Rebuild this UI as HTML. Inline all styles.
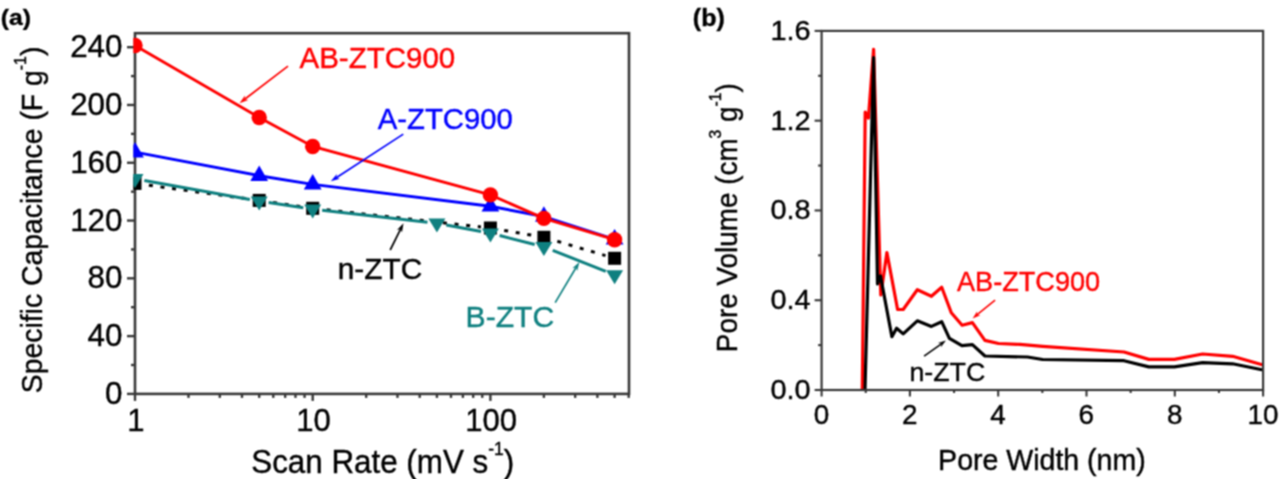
<!DOCTYPE html>
<html><head><meta charset="utf-8"><title>Figure</title>
<style>html,body{margin:0;padding:0;background:#fff;overflow:hidden;} svg{display:block;}</style>
</head><body>
<svg width="1280" height="479" viewBox="0 0 1280 479" font-family="'Liberation Sans', sans-serif"><defs><filter id="bl" x="0" y="0" width="1280" height="479" filterUnits="userSpaceOnUse" color-interpolation-filters="sRGB"><feConvolveMatrix order="3" kernelMatrix="1 2 1 2 4 2 1 2 1" divisor="16" edgeMode="none"/></filter></defs><rect width="1280" height="479" fill="#fff"/><g filter="url(#bl)"><rect width="1280" height="479" fill="#fff"/><defs><clipPath id="ca"><rect x="133.3" y="31.9" width="497" height="363.3"/></clipPath>
<clipPath id="cb"><rect x="820.5" y="29.8" width="443.7" height="361.3"/></clipPath></defs>
<rect x="135.0" y="33.2" width="494" height="360.7" fill="none" stroke="#383838" stroke-width="2.6"/>
<line x1="127" y1="393.9" x2="135.0" y2="393.9" stroke="#383838" stroke-width="2.4"/>
<text transform="translate(122.46,403.88) scale(1,1.0143)" font-size="31.37" fill="#000" font-weight="normal" text-anchor="end" stroke="#000" stroke-width="0.4">0</text>
<line x1="131" y1="365.01" x2="135.0" y2="365.01" stroke="#383838" stroke-width="2.4"/>
<line x1="127" y1="336.12" x2="135.0" y2="336.12" stroke="#383838" stroke-width="2.4"/>
<text transform="translate(122.46,346.09) scale(1,1.0143)" font-size="31.37" fill="#000" font-weight="normal" text-anchor="end" stroke="#000" stroke-width="0.4">40</text>
<line x1="131" y1="307.22" x2="135.0" y2="307.22" stroke="#383838" stroke-width="2.4"/>
<line x1="127" y1="278.33" x2="135.0" y2="278.33" stroke="#383838" stroke-width="2.4"/>
<text transform="translate(122.46,288.31) scale(1,1.0143)" font-size="31.37" fill="#000" font-weight="normal" text-anchor="end" stroke="#000" stroke-width="0.4">80</text>
<line x1="131" y1="249.44" x2="135.0" y2="249.44" stroke="#383838" stroke-width="2.4"/>
<line x1="127" y1="220.55" x2="135.0" y2="220.55" stroke="#383838" stroke-width="2.4"/>
<text transform="translate(122.46,230.53) scale(1,1.0143)" font-size="31.37" fill="#000" font-weight="normal" text-anchor="end" stroke="#000" stroke-width="0.4">120</text>
<line x1="131" y1="191.66" x2="135.0" y2="191.66" stroke="#383838" stroke-width="2.4"/>
<line x1="127" y1="162.76" x2="135.0" y2="162.76" stroke="#383838" stroke-width="2.4"/>
<text transform="translate(122.46,172.74) scale(1,1.0143)" font-size="31.37" fill="#000" font-weight="normal" text-anchor="end" stroke="#000" stroke-width="0.4">160</text>
<line x1="131" y1="133.87" x2="135.0" y2="133.87" stroke="#383838" stroke-width="2.4"/>
<line x1="127" y1="104.98" x2="135.0" y2="104.98" stroke="#383838" stroke-width="2.4"/>
<text transform="translate(122.46,114.96) scale(1,1.0143)" font-size="31.37" fill="#000" font-weight="normal" text-anchor="end" stroke="#000" stroke-width="0.4">200</text>
<line x1="131" y1="76.09" x2="135.0" y2="76.09" stroke="#383838" stroke-width="2.4"/>
<line x1="127" y1="47.2" x2="135.0" y2="47.2" stroke="#383838" stroke-width="2.4"/>
<text transform="translate(122.46,57.17) scale(1,1.0143)" font-size="31.37" fill="#000" font-weight="normal" text-anchor="end" stroke="#000" stroke-width="0.4">240</text>
<line x1="135" y1="393.9" x2="135" y2="400.9" stroke="#383838" stroke-width="2.4"/>
<text transform="translate(135.79,430.72) scale(1,1.0000)" font-size="31.08" fill="#000" font-weight="normal" text-anchor="middle" stroke="#000" stroke-width="0.4">1</text>
<line x1="188.49" y1="393.9" x2="188.49" y2="397.9" stroke="#383838" stroke-width="2.4"/>
<line x1="219.78" y1="393.9" x2="219.78" y2="397.9" stroke="#383838" stroke-width="2.4"/>
<line x1="241.99" y1="393.9" x2="241.99" y2="397.9" stroke="#383838" stroke-width="2.4"/>
<line x1="259.21" y1="393.9" x2="259.21" y2="397.9" stroke="#383838" stroke-width="2.4"/>
<line x1="273.28" y1="393.9" x2="273.28" y2="397.9" stroke="#383838" stroke-width="2.4"/>
<line x1="285.17" y1="393.9" x2="285.17" y2="397.9" stroke="#383838" stroke-width="2.4"/>
<line x1="295.48" y1="393.9" x2="295.48" y2="397.9" stroke="#383838" stroke-width="2.4"/>
<line x1="304.57" y1="393.9" x2="304.57" y2="397.9" stroke="#383838" stroke-width="2.4"/>
<line x1="312.7" y1="393.9" x2="312.7" y2="400.9" stroke="#383838" stroke-width="2.4"/>
<text transform="translate(313.49,430.72) scale(1,1.0000)" font-size="31.08" fill="#000" font-weight="normal" text-anchor="middle" stroke="#000" stroke-width="0.4">10</text>
<line x1="366.19" y1="393.9" x2="366.19" y2="397.9" stroke="#383838" stroke-width="2.4"/>
<line x1="397.48" y1="393.9" x2="397.48" y2="397.9" stroke="#383838" stroke-width="2.4"/>
<line x1="419.69" y1="393.9" x2="419.69" y2="397.9" stroke="#383838" stroke-width="2.4"/>
<line x1="436.91" y1="393.9" x2="436.91" y2="397.9" stroke="#383838" stroke-width="2.4"/>
<line x1="450.98" y1="393.9" x2="450.98" y2="397.9" stroke="#383838" stroke-width="2.4"/>
<line x1="462.87" y1="393.9" x2="462.87" y2="397.9" stroke="#383838" stroke-width="2.4"/>
<line x1="473.18" y1="393.9" x2="473.18" y2="397.9" stroke="#383838" stroke-width="2.4"/>
<line x1="482.27" y1="393.9" x2="482.27" y2="397.9" stroke="#383838" stroke-width="2.4"/>
<line x1="490.4" y1="393.9" x2="490.4" y2="400.9" stroke="#383838" stroke-width="2.4"/>
<text transform="translate(491.19,430.72) scale(1,1.0000)" font-size="31.08" fill="#000" font-weight="normal" text-anchor="middle" stroke="#000" stroke-width="0.4">100</text>
<line x1="543.89" y1="393.9" x2="543.89" y2="397.9" stroke="#383838" stroke-width="2.4"/>
<line x1="575.18" y1="393.9" x2="575.18" y2="397.9" stroke="#383838" stroke-width="2.4"/>
<line x1="597.39" y1="393.9" x2="597.39" y2="397.9" stroke="#383838" stroke-width="2.4"/>
<line x1="614.61" y1="393.9" x2="614.61" y2="397.9" stroke="#383838" stroke-width="2.4"/>
<line x1="628.68" y1="393.9" x2="628.68" y2="397.9" stroke="#383838" stroke-width="2.4"/>
<g clip-path="url(#ca)"><line x1="144.41" y1="184.69" x2="249.79" y2="199.11" stroke="#000" stroke-width="3.0" stroke-dasharray="4 7.7" stroke-dashoffset="7.2"/><line x1="268.61" y1="201.79" x2="303.3" y2="206.91" stroke="#000" stroke-width="3.0" stroke-dasharray="4 7.7" stroke-dashoffset="7.2"/><line x1="322.14" y1="209.35" x2="480.96" y2="226.95" stroke="#000" stroke-width="3.0" stroke-dasharray="4 7.7" stroke-dashoffset="7.2"/><line x1="499.76" y1="229.63" x2="534.53" y2="235.67" stroke="#000" stroke-width="3.0" stroke-dasharray="4 7.7" stroke-dashoffset="7.2"/><line x1="553" y1="240" x2="605.5" y2="255.6" stroke="#000" stroke-width="3.0" stroke-dasharray="4 7.7" stroke-dashoffset="7.2"/><rect x="128.5" y="176.9" width="13" height="13" fill="#000"/><rect x="252.71" y="193.9" width="13" height="13" fill="#000"/><rect x="306.2" y="201.8" width="13" height="13" fill="#000"/><rect x="483.9" y="221.5" width="13" height="13" fill="#000"/><rect x="537.39" y="230.8" width="13" height="13" fill="#000"/><rect x="608.11" y="251.8" width="13" height="13" fill="#000"/><line x1="144.35" y1="180.49" x2="249.86" y2="199.51" stroke="#0f8080" stroke-width="3.0" /><line x1="268.61" y1="202.59" x2="303.3" y2="207.71" stroke="#0f8080" stroke-width="3.0" /><line x1="322.14" y1="210.18" x2="427.47" y2="222.22" stroke="#0f8080" stroke-width="3.0" /><line x1="446.25" y1="225.03" x2="481.06" y2="231.47" stroke="#0f8080" stroke-width="3.0" /><line x1="499.61" y1="235.54" x2="534.69" y2="244.46" stroke="#0f8080" stroke-width="3.0" /><line x1="552.72" y1="250.32" x2="605.78" y2="271.48" stroke="#0f8080" stroke-width="3.0" /><polygon points="126.5,174.1 143.5,174.1 135,188.1" fill="#0f8080"/><polygon points="250.71,196.5 267.71,196.5 259.21,210.5" fill="#0f8080"/><polygon points="304.2,204.4 321.2,204.4 312.7,218.4" fill="#0f8080"/><polygon points="428.41,218.6 445.41,218.6 436.91,232.6" fill="#0f8080"/><polygon points="481.9,228.5 498.9,228.5 490.4,242.5" fill="#0f8080"/><polygon points="535.39,242.1 552.39,242.1 543.89,256.1" fill="#0f8080"/><polygon points="606.11,270.3 623.11,270.3 614.61,284.3" fill="#0f8080"/><polyline points="135,152.2 259.21,175.7 312.7,184.4 490.4,206.3 543.89,216.6 614.61,239.3" fill="none" stroke="#0000ff" stroke-width="2.9"/><polygon points="126.1,157.4 143.9,157.4 135,141.9" fill="#0000ff"/><polygon points="250.31,180.9 268.11,180.9 259.21,165.4" fill="#0000ff"/><polygon points="303.8,189.6 321.6,189.6 312.7,174.1" fill="#0000ff"/><polygon points="481.5,211.5 499.3,211.5 490.4,196" fill="#0000ff"/><polygon points="534.99,221.8 552.79,221.8 543.89,206.3" fill="#0000ff"/><polygon points="605.71,244.5 623.51,244.5 614.61,229" fill="#0000ff"/><polyline points="135,45.5 259.21,117.5 312.7,146.5 490.4,194.9 543.89,218.4 614.61,239.7" fill="none" stroke="#ff0000" stroke-width="2.9"/><circle cx="135" cy="45.5" r="7.7" fill="#ff0000"/><circle cx="259.21" cy="117.5" r="7.7" fill="#ff0000"/><circle cx="312.7" cy="146.5" r="7.7" fill="#ff0000"/><circle cx="490.4" cy="194.9" r="7.7" fill="#ff0000"/><circle cx="543.89" cy="218.4" r="7.7" fill="#ff0000"/><circle cx="614.61" cy="239.7" r="7.7" fill="#ff0000"/></g>
<text transform="translate(251.23,472.75) scale(1,1.0395)" font-size="31.37" fill="#000" font-weight="normal" text-anchor="start" stroke="#000" stroke-width="0.4">Scan Rate (mV s<tspan font-size="17.57" dy="-17.26">-1</tspan><tspan dy="17.26">)</tspan></text>
<text transform="translate(41.97,393.22) rotate(-90) scale(1,1.0441)" font-size="28.36" fill="#000" stroke="#000" stroke-width="0.4">Specific Capacitance (F g<tspan font-size="15.88" dy="-15.6">-1</tspan><tspan dy="15.6">)</tspan></text>
<text transform="translate(0.86,24.88) scale(1,0.8996)" font-size="24.71" fill="#000" font-weight="bold" text-anchor="start" stroke="#000" stroke-width="0.4">(a)</text>
<text transform="translate(299.5,67.59) scale(1,0.9817)" font-size="29.51" fill="#ff0000" font-weight="normal" text-anchor="start" stroke="#ff0000" stroke-width="0.4">AB-ZTC900</text>
<text transform="translate(377.7,128.55) scale(1,0.9746)" font-size="29.31" fill="#0000ff" font-weight="normal" text-anchor="start" stroke="#0000ff" stroke-width="0.4">A-ZTC900</text>
<text transform="translate(337.71,278.99) scale(1,1.0033)" font-size="29.87" fill="#000" font-weight="normal" text-anchor="start" stroke="#000" stroke-width="0.4">n-ZTC</text>
<text transform="translate(465.59,326.66) scale(1,1.0069)" font-size="30.12" fill="#0f8080" font-weight="normal" text-anchor="start" stroke="#0f8080" stroke-width="0.4">B-ZTC</text>
<line x1="288" y1="66.1" x2="244.66" y2="99.25" stroke="#ff0000" stroke-width="1.7"/><polygon points="239.5,103.2 244.95,95.51 244.66,99.25 248.35,99.96" fill="#ff0000"/>
<line x1="403.3" y1="134.1" x2="336.25" y2="177.75" stroke="#0000ff" stroke-width="1.7"/><polygon points="330.8,181.3 336.81,174.04 336.25,177.75 339.87,178.74" fill="#0000ff"/>
<line x1="390.2" y1="250" x2="400.6" y2="229.12" stroke="#000" stroke-width="1.7"/><polygon points="403.5,223.3 401.99,232.6 400.6,229.12 396.98,230.11" fill="#000"/>
<line x1="555.2" y1="302.6" x2="576.08" y2="267.49" stroke="#0f8080" stroke-width="1.7"/><polygon points="579.4,261.9 577.21,271.07 576.08,267.49 572.39,268.2" fill="#0f8080"/>
<g clip-path="url(#cb)">
<polyline points="862.3,390 865.2,112 868.4,118 873.6,49.4 880.8,295 886.9,252.5 897.6,309.5 903.2,309.5 917.3,289.7 931.4,296.3 941.7,287.3 951.3,312.8 962.1,325.2 972.4,322.6 984.9,340.4 998.5,343.5 1020,344.4 1042.6,346.3 1124,352 1148.8,359.4 1174.4,359.4 1202.6,354 1232.6,356.3 1263.1,365" fill="none" stroke="#ff0000" stroke-width="3.2" stroke-linejoin="round"/>
<polyline points="865,390 873.6,57.7 877.5,284 880.5,276 891.9,336.7 896.6,328.3 903.2,333.9 917.3,320.8 931.4,326.4 941.7,321.7 949.4,338.3 961.9,345.6 972.4,344.6 984.9,356 1027.5,357 1042.6,359.5 1124,360.7 1148.8,366.9 1174.4,366.9 1202.6,362.6 1232.6,363.8 1263.1,370" fill="none" stroke="#000" stroke-width="3.2" stroke-linejoin="round"/>
</g>
<rect x="821.6" y="30.9" width="441.5" height="359.1" fill="none" stroke="#383838" stroke-width="2.2"/>
<line x1="814.6" y1="390" x2="821.6" y2="390" stroke="#383838" stroke-width="2.1"/>
<text transform="translate(810.58,398.94) scale(1,0.9324)" font-size="28.92" fill="#000" font-weight="normal" text-anchor="end" stroke="#000" stroke-width="0.4">0.0</text>
<line x1="818.1" y1="345.11" x2="821.6" y2="345.11" stroke="#383838" stroke-width="2.1"/>
<line x1="814.6" y1="300.23" x2="821.6" y2="300.23" stroke="#383838" stroke-width="2.1"/>
<text transform="translate(810.58,309.16) scale(1,0.9324)" font-size="28.92" fill="#000" font-weight="normal" text-anchor="end" stroke="#000" stroke-width="0.4">0.4</text>
<line x1="818.1" y1="255.34" x2="821.6" y2="255.34" stroke="#383838" stroke-width="2.1"/>
<line x1="814.6" y1="210.45" x2="821.6" y2="210.45" stroke="#383838" stroke-width="2.1"/>
<text transform="translate(810.58,219.39) scale(1,0.9324)" font-size="28.92" fill="#000" font-weight="normal" text-anchor="end" stroke="#000" stroke-width="0.4">0.8</text>
<line x1="818.1" y1="165.56" x2="821.6" y2="165.56" stroke="#383838" stroke-width="2.1"/>
<line x1="814.6" y1="120.67" x2="821.6" y2="120.67" stroke="#383838" stroke-width="2.1"/>
<text transform="translate(810.58,129.61) scale(1,0.9324)" font-size="28.92" fill="#000" font-weight="normal" text-anchor="end" stroke="#000" stroke-width="0.4">1.2</text>
<line x1="818.1" y1="75.79" x2="821.6" y2="75.79" stroke="#383838" stroke-width="2.1"/>
<line x1="814.6" y1="30.9" x2="821.6" y2="30.9" stroke="#383838" stroke-width="2.1"/>
<text transform="translate(810.58,39.84) scale(1,0.9324)" font-size="28.92" fill="#000" font-weight="normal" text-anchor="end" stroke="#000" stroke-width="0.4">1.6</text>
<line x1="821.6" y1="390.0" x2="821.6" y2="396.5" stroke="#383838" stroke-width="2.1"/>
<text transform="translate(821.43,423.85) scale(1,1.0000)" font-size="27.84" fill="#000" font-weight="normal" text-anchor="middle" stroke="#000" stroke-width="0.4">0</text>
<line x1="865.75" y1="390.0" x2="865.75" y2="393" stroke="#383838" stroke-width="2.1"/>
<line x1="909.9" y1="390.0" x2="909.9" y2="396.5" stroke="#383838" stroke-width="2.1"/>
<text transform="translate(909.73,423.85) scale(1,1.0000)" font-size="27.84" fill="#000" font-weight="normal" text-anchor="middle" stroke="#000" stroke-width="0.4">2</text>
<line x1="954.05" y1="390.0" x2="954.05" y2="393" stroke="#383838" stroke-width="2.1"/>
<line x1="998.2" y1="390.0" x2="998.2" y2="396.5" stroke="#383838" stroke-width="2.1"/>
<text transform="translate(998.03,423.85) scale(1,1.0000)" font-size="27.84" fill="#000" font-weight="normal" text-anchor="middle" stroke="#000" stroke-width="0.4">4</text>
<line x1="1042.35" y1="390.0" x2="1042.35" y2="393" stroke="#383838" stroke-width="2.1"/>
<line x1="1086.5" y1="390.0" x2="1086.5" y2="396.5" stroke="#383838" stroke-width="2.1"/>
<text transform="translate(1086.33,423.85) scale(1,1.0000)" font-size="27.84" fill="#000" font-weight="normal" text-anchor="middle" stroke="#000" stroke-width="0.4">6</text>
<line x1="1130.65" y1="390.0" x2="1130.65" y2="393" stroke="#383838" stroke-width="2.1"/>
<line x1="1174.8" y1="390.0" x2="1174.8" y2="396.5" stroke="#383838" stroke-width="2.1"/>
<text transform="translate(1174.63,423.85) scale(1,1.0000)" font-size="27.84" fill="#000" font-weight="normal" text-anchor="middle" stroke="#000" stroke-width="0.4">8</text>
<line x1="1218.95" y1="390.0" x2="1218.95" y2="393" stroke="#383838" stroke-width="2.1"/>
<line x1="1263.1" y1="390.0" x2="1263.1" y2="396.5" stroke="#383838" stroke-width="2.1"/>
<text transform="translate(1262.93,423.85) scale(1,1.0000)" font-size="27.84" fill="#000" font-weight="normal" text-anchor="middle" stroke="#000" stroke-width="0.4">10</text>
<text transform="translate(938.12,469.59) scale(1,1.0344)" font-size="28.54" fill="#000" font-weight="normal" text-anchor="start" stroke="#000" stroke-width="0.4">Pore Width (nm)</text>
<text transform="translate(736.7,352.13) rotate(-90) scale(1,1.0349)" font-size="27.87" fill="#000" stroke="#000" stroke-width="0.4">Pore Volume (cm<tspan font-size="15.61" dy="-15.33">3</tspan><tspan dy="15.33"> g</tspan><tspan font-size="15.61" dy="-15.33">-1</tspan><tspan dy="15.33">)</tspan></text>
<text transform="translate(692.85,25.58) scale(1,0.9499)" font-size="25.02" fill="#000" font-weight="bold" text-anchor="start" stroke="#000" stroke-width="0.4">(b)</text>
<text transform="translate(957,290.83) scale(1,0.9974)" font-size="27.12" fill="#ff0000" font-weight="normal" text-anchor="start" stroke="#ff0000" stroke-width="0.4">AB-ZTC900</text>
<text transform="translate(909.42,380.86) scale(1,0.9529)" font-size="26.8" fill="#000" font-weight="normal" text-anchor="start" stroke="#000" stroke-width="0.4">n-ZTC</text>
<line x1="995.1" y1="300.1" x2="976.87" y2="314.93" stroke="#ff0000" stroke-width="1.6"/><polygon points="972.6,318.4 977.17,311.34 976.87,314.93 980.45,315.37" fill="#ff0000"/>
<line x1="924.1" y1="356.1" x2="941.42" y2="343.79" stroke="#000" stroke-width="1.6"/><polygon points="945.9,340.6 940.89,347.35 941.42,343.79 937.87,343.12" fill="#000"/></g></svg>
</body></html>
